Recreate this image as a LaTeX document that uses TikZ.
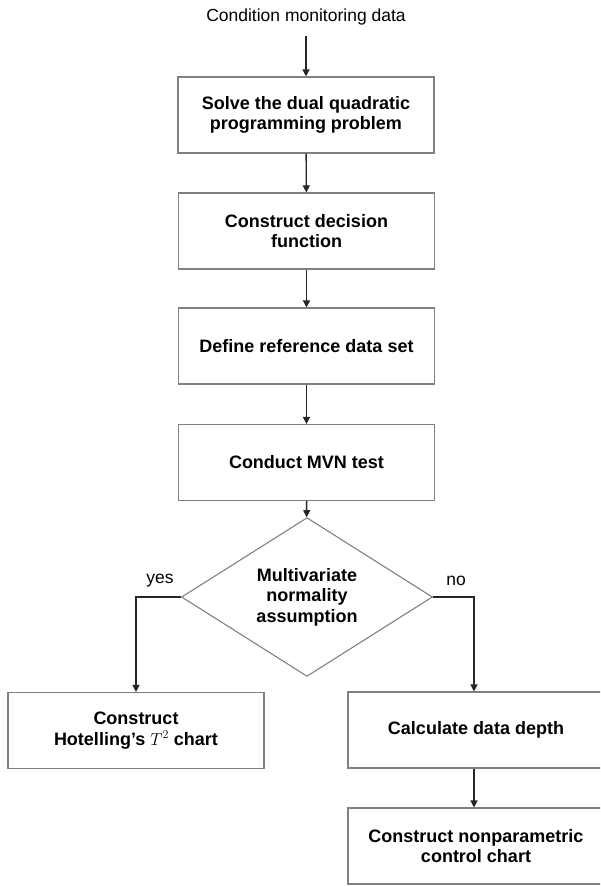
\documentclass[tikz,border=0pt]{standalone}
\usepackage{fontspec}
\setmainfont{Liberation Sans}
\usetikzlibrary{arrows.meta,shapes.geometric}
\begin{document}
\begin{tikzpicture}[x=1pt,y=-1pt,
  box/.style={draw=black!50, line width=1.1pt, minimum width=256pt, minimum height=76pt,
    inner sep=0pt, align=center, font=\fontsize{18}{20.5}\selectfont\bfseries},
  dia/.style={draw=black!50, line width=1.1pt, shape=diamond, minimum width=251pt,
    minimum height=111pt, inner sep=0pt, align=center, font=\fontsize{18}{20.5}\selectfont\bfseries},
  plain/.style={font=\fontsize{17.5}{20}\selectfont, inner sep=2pt},
  arr/.style={draw=black!85, line width=1.4pt, -{Triangle[length=7pt,width=7pt]}}]
\useasboundingbox (0,0) rectangle (600,886);
\clip (0,0) rectangle (600,886);
\node[plain] (src) at (306,17) {Condition monitoring data};
\node[box] (b1) at (306,115) {Solve the dual quadratic\\programming problem};
\node[box] (b2) at (306.5,231) {Construct decision\\function};
\node[box] (b3) at (306.5,346) {Define reference data set};
\node[box] (b4) at (306.5,462.5) {Conduct MVN test};
\node[dia] (d) at (307,597) {Multivariate\\normality\\assumption};
\node[box] (lb) at (136,730.5) {Construct\\Hotelling’s $T^2$ chart};
\node[box] (rb1) at (476,730) {Calculate data depth};
\node[box] (rb2) at (476,846) {Construct nonparametric\\control chart};
\node[plain] (yes) at (160,581) {yes};
\node[plain] (no) at (456,581) {no};
\draw[arr] ([yshift=-9pt]src.south) -- (b1);
\draw[arr] (b1) -- (b2);
\draw[arr] (b2) -- (b3);
\draw[arr] (b3) -- (b4);
\draw[arr] (b4) -- (d);
\draw[arr] (d.west) -| (lb.north);
\draw[arr] (d.east) -| ([xshift=-2pt]rb1.north);
\draw[arr] ([xshift=-2pt]rb1.south) -- ([xshift=-2pt]rb2.north);
\end{tikzpicture}
\end{document}
